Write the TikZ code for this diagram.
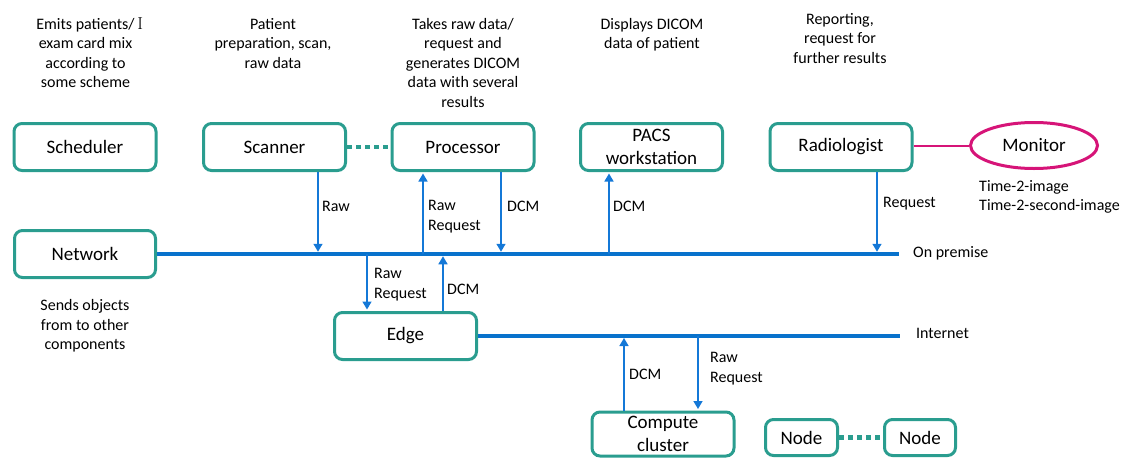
\documentclass[tikz,border=0pt]{standalone}
\usepackage{fontspec}
\setmainfont{Carlito}
\usetikzlibrary{arrows.meta,shapes.geometric}
\definecolor{teal1}{RGB}{42,157,143}
\definecolor{netblue}{RGB}{8,114,204}
\definecolor{arrblue}{RGB}{20,120,215}
\definecolor{monpink}{RGB}{214,20,120}
\begin{document}
\begin{tikzpicture}[x=1pt,y=-1pt,
  comp/.style={draw=teal1, line width=3pt, rounded corners=8pt, minimum width=142pt, minimum height=47pt, inner sep=0pt, align=center, font=\fontsize{19}{23}\selectfont},
  desc/.style={align=center, inner sep=0pt, anchor=north, font=\fontsize{16}{19.5}\selectfont},
  lbl/.style={align=left, inner sep=0pt, anchor=west, font=\fontsize{16}{19.5}\selectfont},
  bus/.style={draw=netblue, line width=4.5pt},
  flow/.style={draw=arrblue, line width=1.5pt, -{Triangle[length=8pt,width=9pt]}},
  dots/.style={draw=teal1, line width=4.5pt, dash pattern=on 5pt off 4pt},
  monlink/.style={draw=monpink, line width=2pt},
  ]
\useasboundingbox (0,0) rectangle (1125,458);

% components
\node[comp] (scheduler) at (85,147) {Scheduler};
\node[comp] (scanner) at (274.5,147) {Scanner};
\node[comp] (processor) at (463,147) {Processor};
\node[comp] (pacs) at (651.5,147) {PACS\\workstation};
\node[comp] (radiologist) at (841,147) {Radiologist};
\node[draw=monpink, line width=3pt, ellipse, minimum width=127pt, minimum height=46pt, inner sep=0pt, font=\fontsize{19}{23}\selectfont] (monitor) at (1034,145.5) {Monitor};
\node[comp, minimum width=141pt] (network) at (85,254) {Network};
\node[comp] (edge) at (405.5,336) {Edge};
\node[comp, minimum height=44pt] (compute) at (663,434) {Compute\\cluster};
\node[comp, minimum width=72pt, minimum height=36pt] (node1) at (801.5,437.5) {Node};
\node[comp, minimum width=71pt, minimum height=36pt] (node2) at (920,437.5) {Node};

% descriptions
\node[desc] (dsched) at (85.5,15.35) {\strut Emits patients/\rlap{\,{\usefont{OT1}{cmr}{m}{n}I}}\\exam card mix\\according to\\some scheme};
\node[desc] (dscan) at (273,15.35) {\strut Patient\\preparation, scan,\\raw data};
\node[desc] (dproc) at (463,15.35) {\strut Takes raw data/\\request and\\generates DICOM\\data with several\\results};
\node[desc] (dpacs) at (652,15.35) {\strut Displays DICOM\\data of patient};
\node[desc] (drad) at (840,10.35) {\strut Reporting,\\request for\\further results};
\node[desc, anchor=center] (dnet) at (85,326) {Sends objects\\from to other\\components};
\node[lbl] (dmon) at (979,197) {Time-2-image\\Time-2-second-image};

% buses
\coordinate (premEnd) at (899,254);
\coordinate (netEnd) at (900,336);
\draw[bus] (network.east) -- (premEnd);
\draw[bus, line width=4pt] (edge.east) -- (netEnd);
\node[lbl] (lprem) at (913,253) {On premise};
\node[lbl] (lnet) at (916,333) {Internet};

% dotted links
\draw[dots] (scanner.east) -- (processor.west);
\draw[dots] (node1.east) -- (node2.west);
\path[monlink] (radiologist.east |- monitor.west) -- (monitor.west);

% flows on premise
\coordinate (b1) at (318,254);
\coordinate (b2) at (423,254);
\coordinate (b3) at (501,254);
\coordinate (b4) at (609,254);
\coordinate (b5) at (877,254);
\coordinate (b6) at (367,254);
\coordinate (b7) at (443,254);
\coordinate (i1) at (624,336);
\coordinate (i2) at (698,336);

\draw[flow, shorten >=2.25pt] (scanner.south -| b1) -- (b1);
\draw[flow, shorten >=1.5pt] (b2) -- (processor.south -| b2);
\draw[flow, shorten >=2.25pt] (processor.south -| b3) -- (b3);
\draw[flow, shorten >=1.5pt] (b4) -- (pacs.south -| b4);
\draw[flow, shorten >=2.25pt] (radiologist.south -| b5) -- (b5);
\draw[flow, shorten >=1.5pt] (b6) -- (edge.north -| b6);
\draw[flow, shorten >=2.25pt] (edge.north -| b7) -- (b7);
\draw[flow, shorten >=2pt] (compute.north -| i1) -- (i1);
\draw[flow, shorten >=1.5pt] (i2) -- (compute.north -| i2);

% flow labels
\node[lbl] (l1) at (322,206) {Raw};
\node[lbl] (l2) at (428,216.5) {Raw\\Request};
\node[lbl] (l3) at (507,206) {DCM};
\node[lbl] (l4) at (613,206) {DCM};
\node[lbl] (l5) at (883,204) {Request};
\node[lbl] (l6) at (374,284.5) {Raw\\Request};
\node[lbl] (l7) at (447,289) {DCM};
\node[lbl] (l8) at (629,374) {DCM};
\node[lbl] (l9) at (710,368.5) {Raw\\Request};
\end{tikzpicture}
\end{document}
